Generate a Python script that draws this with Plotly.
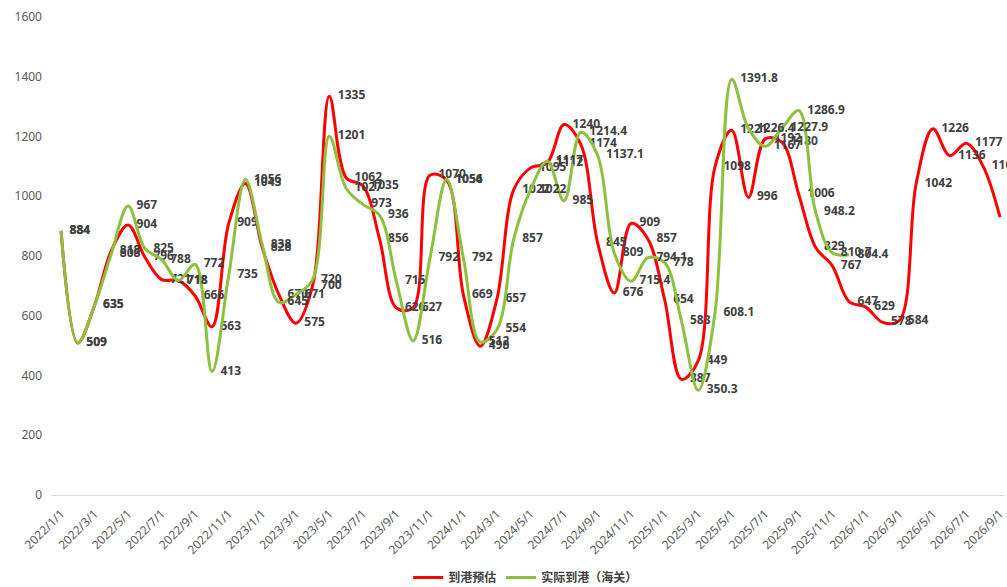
import plotly.graph_objects as go

# Monthly categories, 2022/1/1 .. 2026/9/1
months = [f"{2022 + i // 12}/{i % 12 + 1}/1" for i in range(57)]

# 到港预估 (forecast arrivals), 2022/1 .. 2026/9
forecast = [884, 509, 635, 818, 904, 796, 721, 718, 666, 563, 909, 1043,
            828, 670, 575, 700, 1335, 1062, 1035, 856, 626, 627, 1070, 1054,
            669, 498, 657, 1022, 1095, 1112, 1240, 1174, 845, 676, 909, 857,
            654, 387, 449, 1098, 1221, 996, 1192, 1180, 1006, 829, 767, 647,
            629, 578, 584, 1042, 1226, 1136, 1177, 1100, 930]

# 实际到港（海关） (customs actual arrivals), 2022/1 .. 2025/12
actual = [884, 509, 635, 808, 967, 825, 788, 718, 772, 413, 735, 1056,
          838, 645, 671, 720, 1201, 1027, 973, 936, 715, 516, 792, 1056,
          792, 512, 554, 857, 1022, 1117, 985, 1214.4, 1137.1, 809, 715.4, 794.1,
          778, 583, 350.3, 608.1, 1391.8, 1226.4, 1167, 1227.9, 1286.9, 948.2, 810.7, 804.4]

series = [
    ("到港预估", forecast, "#FF0000"),
    ("实际到港（海关）", actual, "#8DC03F"),
]

FONT = "Noto Sans, Noto Sans CJK SC, sans-serif"

fig = go.Figure()
for name, vals, color in series:
    fig.add_trace(go.Scatter(
        x=months[:len(vals)],
        y=vals,
        name=name,
        mode="lines+markers+text",
        line=dict(color=color, width=3, shape="spline", smoothing=1.0),
        # transparent markers only push the value labels off the line
        marker=dict(size=12, color="rgba(0,0,0,0)", line=dict(width=0)),
        text=[f"{v:g}" for v in vals],
        textposition="middle right",
        textfont=dict(family=FONT, size=12, color="#404040", weight="bold"),
        cliponaxis=False,
        hoverinfo="x+y+name",
    ))

fig.update_layout(
    width=1007,
    height=587,
    margin=dict(l=51, r=0, t=17, b=92),
    paper_bgcolor="white",
    plot_bgcolor="white",
    font=dict(family=FONT, color="#595959"),
    showlegend=True,
    legend=dict(
        orientation="h",
        xref="container", yref="container",
        x=0.522, y=0.016,
        xanchor="center", yanchor="middle",
        font=dict(family=FONT, size=12, color="#404040", weight="bold"),
        itemwidth=30,
    ),
    xaxis=dict(
        type="category",
        categoryorder="array",
        categoryarray=months,
        range=[-0.6, 56.3],
        tickmode="array",
        tickvals=months[::2],
        tickangle=-45,
        tickfont=dict(family=FONT, size=12, color="#595959"),
        ticklabelstandoff=6,
        showgrid=False,
        showline=True,
        linecolor="#D9D9D9",
        linewidth=1,
        ticks="",
        zeroline=False,
    ),
    yaxis=dict(
        range=[0, 1600],
        dtick=200,
        tickfont=dict(family=FONT, size=12, color="#595959"),
        showgrid=False,
        zeroline=False,
        showline=False,
        ticks="",
        ticklabelstandoff=8,
    ),
)

fig.write_html("out.html")
